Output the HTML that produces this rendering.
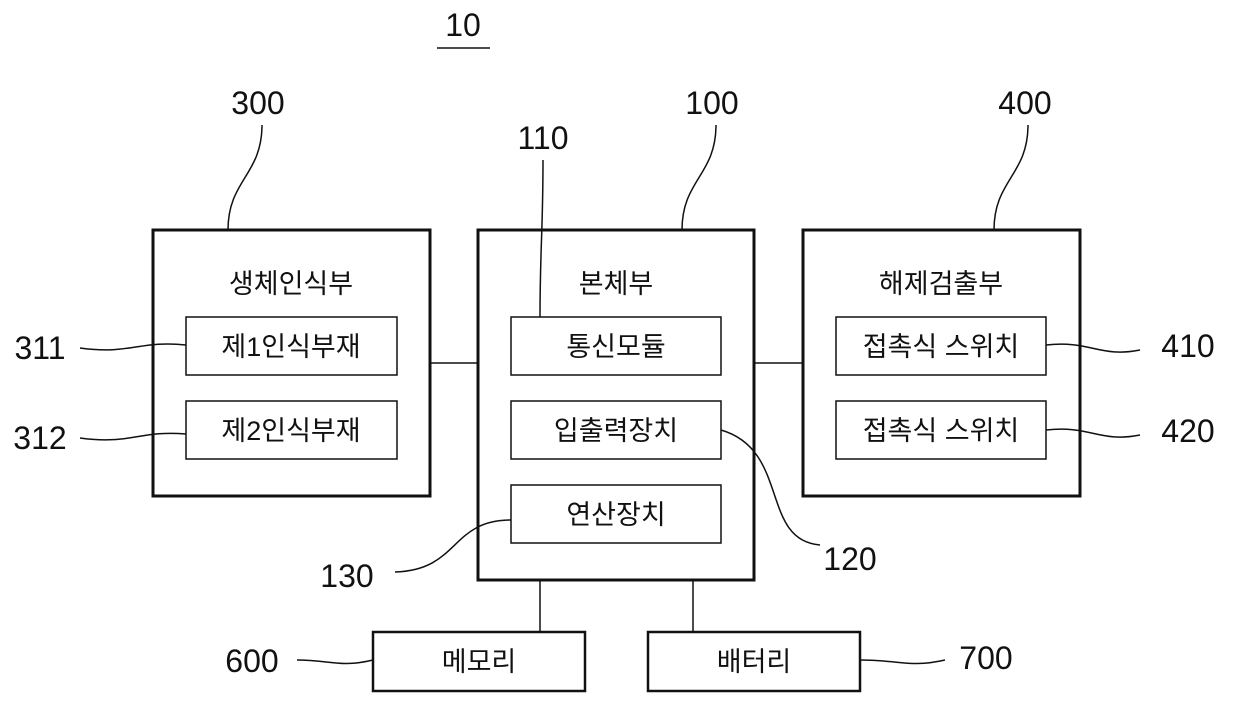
<!DOCTYPE html>
<html><head><meta charset="utf-8"><style>
body{margin:0;background:#fff;}
svg{display:block;}
text{font-family:"Liberation Sans","Noto Sans CJK KR",sans-serif;fill:#111;}
.n{font-size:32px;}
.k{font-size:27px;}
</style></head><body>
<svg width="1240" height="719" viewBox="0 0 1240 719">
<g fill="none" stroke="#111">
<rect x="153" y="230" width="277" height="266" stroke-width="3"/>
<rect x="478" y="230" width="276" height="350" stroke-width="3"/>
<rect x="803" y="230" width="277" height="266" stroke-width="3"/>
<g stroke-width="1.5">
<rect x="186" y="317" width="211" height="58"/>
<rect x="186" y="401" width="211" height="58"/>
<rect x="511" y="317" width="210" height="58"/>
<rect x="511" y="401" width="210" height="58"/>
<rect x="511" y="485" width="210" height="58"/>
<rect x="836" y="317" width="210" height="58"/>
<rect x="836" y="401" width="210" height="58"/>
</g>
<rect x="373" y="632" width="212" height="59" stroke-width="2.5"/>
<rect x="648" y="632" width="212" height="59" stroke-width="2.5"/>
<g stroke-width="1.5">
<line x1="430" y1="363" x2="478" y2="363"/>
<line x1="754" y1="363" x2="803" y2="363"/>
<line x1="540" y1="580" x2="540" y2="632"/>
<line x1="693" y1="580" x2="693" y2="632"/>
<line x1="437" y1="48" x2="490" y2="48"/>
<path d="M262 125 C262 175 228 180 228 230"/>
<path d="M716 125 C716 175 682 180 682 230"/>
<path d="M1028 125 C1028 175 994 180 994 230"/>
<path d="M543 160 C543 230 540 250 540 317"/>
<path d="M80 348 C130 355 140 340 186 345"/>
<path d="M80 438 C130 445 140 430 186 434"/>
<path d="M1046 345 C1090 340 1100 358 1140 350"/>
<path d="M1046 430 C1090 425 1100 443 1140 435"/>
<path d="M395 572 C460 570 450 520 511 520"/>
<path d="M721 430 C790 450 760 540 820 545"/>
<path d="M297 660 C330 660 340 668 373 660"/>
<path d="M860 660 C900 660 910 668 945 660"/>
</g>
</g>
<text class="n" x="463" y="36" text-anchor="middle">10</text>
<text class="n" x="258" y="114" text-anchor="middle">300</text>
<text class="n" x="712" y="114" text-anchor="middle">100</text>
<text class="n" x="1025" y="114" text-anchor="middle">400</text>
<text class="n" x="543" y="149" text-anchor="middle">110</text>
<text class="n" x="40" y="359" text-anchor="middle">311</text>
<text class="n" x="40" y="449" text-anchor="middle">312</text>
<text class="n" x="1188" y="357" text-anchor="middle">410</text>
<text class="n" x="1188" y="442" text-anchor="middle">420</text>
<text class="n" x="347" y="587" text-anchor="middle">130</text>
<text class="n" x="850" y="570" text-anchor="middle">120</text>
<text class="n" x="252" y="672" text-anchor="middle">600</text>
<text class="n" x="986" y="669" text-anchor="middle">700</text>
<g text-anchor="middle" class="k">
<text x="291" y="293">생체인식부</text>
<text x="616" y="293">본체부</text>
<text x="941" y="293">해제검출부</text>
<text x="291" y="356">제1인식부재</text>
<text x="291" y="440">제2인식부재</text>
<text x="616" y="356">통신모듈</text>
<text x="616" y="440">입출력장치</text>
<text x="616" y="524">연산장치</text>
<text x="941" y="356">접촉식 스위치</text>
<text x="941" y="440">접촉식 스위치</text>
<text x="479" y="671">메모리</text>
<text x="754" y="671">배터리</text>
</g>
</svg>
</body></html>
